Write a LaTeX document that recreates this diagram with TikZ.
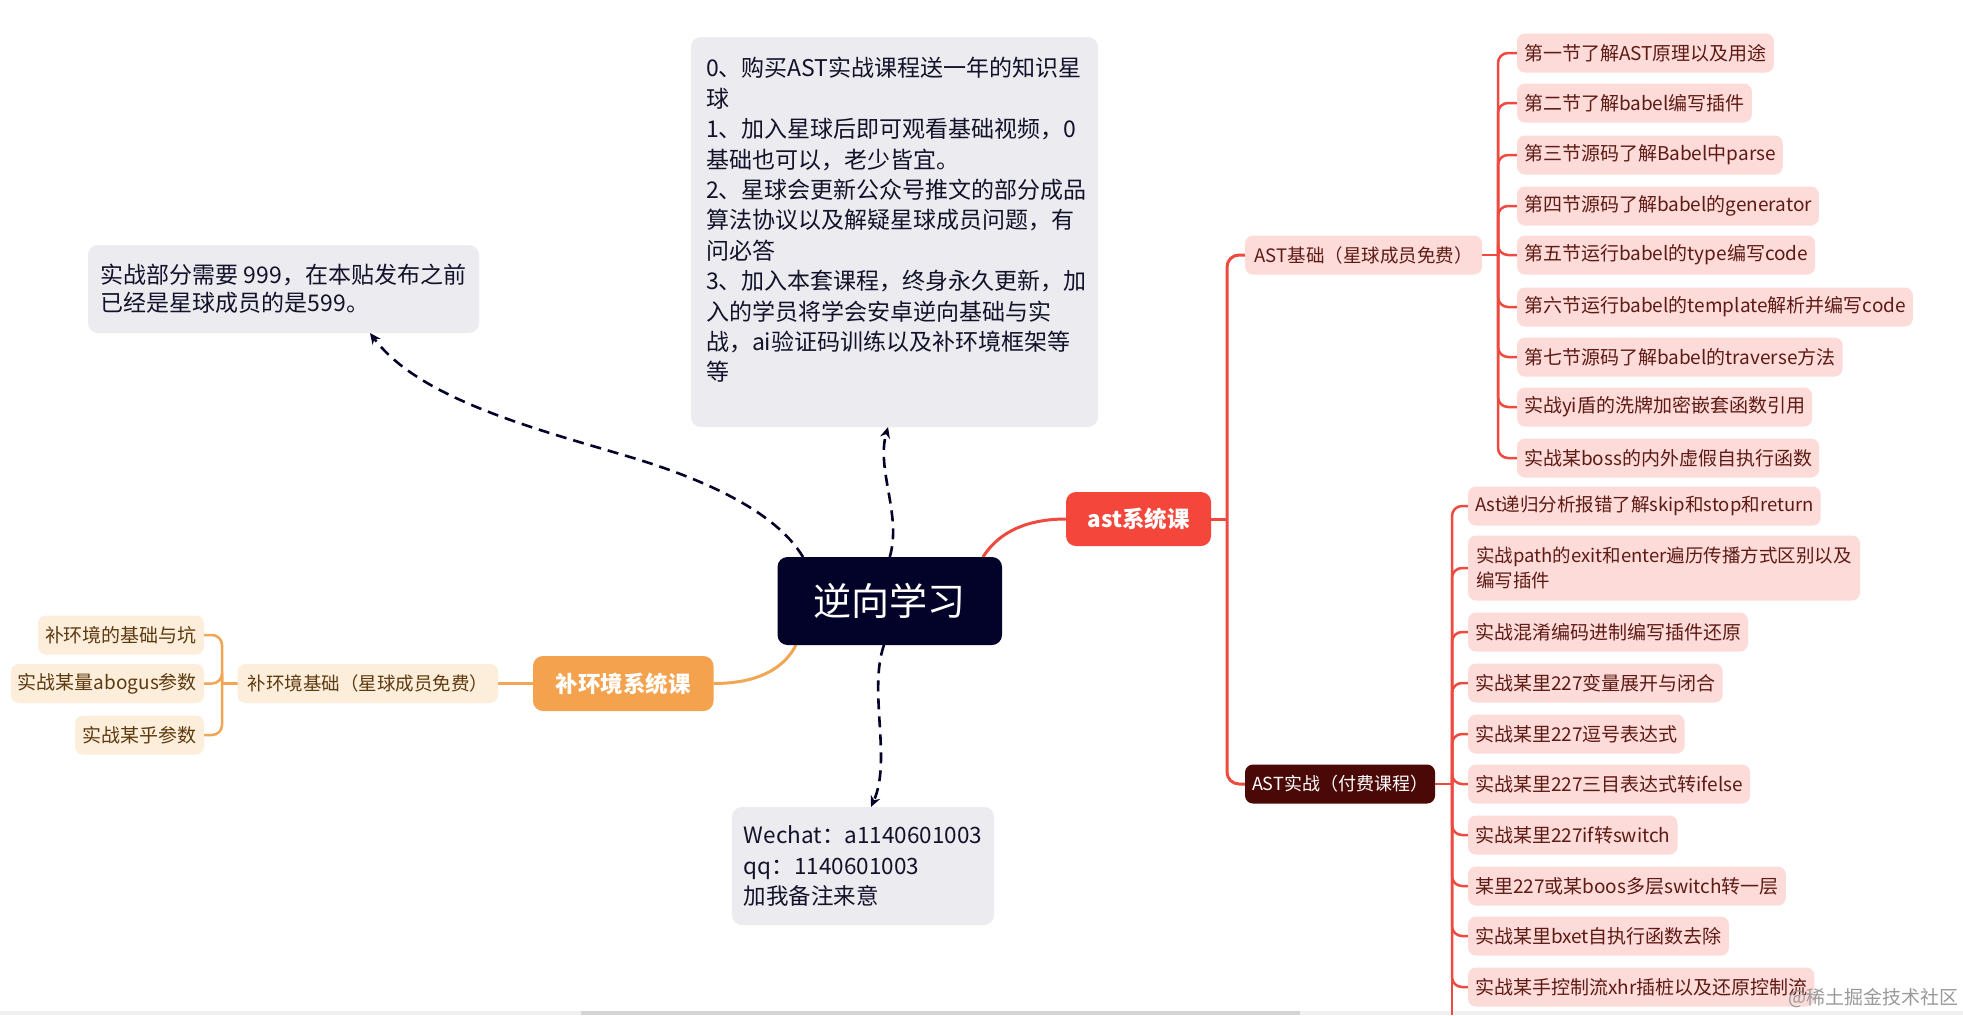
\documentclass[tikz,border=0pt]{standalone}
\usepackage{fontspec}
\setmainfont{Noto Sans CJK SC}
\usetikzlibrary{arrows.meta}
\definecolor{rootnavy}{HTML}{03032A}
\definecolor{notegray}{HTML}{ECEBEF}
\definecolor{notetext}{HTML}{12122A}
\definecolor{astred}{HTML}{F4463B}
\definecolor{redline}{HTML}{EF4A40}
\definecolor{pinkfill}{HTML}{FDDBD9}
\definecolor{pinktext}{HTML}{5E1A14}
\definecolor{maroon}{HTML}{4A0906}
\definecolor{orangenode}{HTML}{F4A24D}
\definecolor{orangeline}{HTML}{F2A552}
\definecolor{peach}{HTML}{FDEEDC}
\definecolor{browntext}{HTML}{5D3A0E}
\newcommand\fz[2]{\fontsize{#1}{#2}\selectfont}
\pgfdeclarelayer{background}
\pgfsetlayers{background,main}
\begin{document}
\begin{tikzpicture}[x=1pt,y=-1pt,
 every node/.style={inner sep=0pt, outer sep=0pt},
 notebox/.style={fill=notegray, rounded corners=10pt, text=notetext, align=left, font=\fz{23}{28.5}},
 root/.style={fill=rootnavy, rounded corners=10pt, text=white, font=\fz{38}{40}, minimum width=224.5pt, minimum height=88pt},
 mainbox/.style={rounded corners=10pt, text=white, font=\fz{22.5}{26}\bfseries},
 leaf/.style={fill=pinkfill, text=pinktext, rounded corners=8pt, anchor=west, minimum height=39pt, inner xsep=7pt, font=\fz{19}{24}},
 oleaf/.style={fill=peach, text=browntext, rounded corners=8pt, anchor=east, minimum height=39pt, inner xsep=7pt, font=\fz{19}{24}},
 redl/.style={draw=redline, line width=3pt},
 redc/.style={draw=redline, line width=2.5pt, rounded corners=10pt},
 orl/.style={draw=orangeline, line width=3pt},
 dlink/.style={draw=rootnavy, line width=2.6pt, dash pattern=on 11pt off 7pt, -{Stealth[length=11pt,width=10pt]}}
]
\begin{pgfonlayer}{background}
\fill[white] (0,0) rectangle (1963,1015);
\fill[black!6] (0,1011) rectangle (1963,1015);
\fill[black!17] (581,1011) rectangle (1300,1015);
\end{pgfonlayer}
\useasboundingbox (0,0) rectangle (1963,1015);

% notes
\node[notebox, minimum width=407pt, minimum height=390pt] (tn) at (894.5,232) {};
\node[anchor=west, align=left, text=notetext, font=\fz{23}{30.4}] (tnt) at (706,220) {0、购买AST实战课程送一年的知识星\\球\\1、加入星球后即可观看基础视频，0\\基础也可以，老少皆宜。\\2、星球会更新公众号推文的部分成品\\算法协议以及解疑星球成员问题，有\\问必答\\3、加入本套课程，终身永久更新，加\\入的学员将学会安卓逆向基础与实\\战，ai验证码训练以及补环境框架等\\等};
\node[notebox, minimum width=391pt, minimum height=88pt, inner xsep=12pt] (ln) at (283.5,289) {实战部分需要 999，在本贴发布之前\\已经是星球成员的是599。};
\node[notebox, minimum width=262pt, minimum height=118pt, inner xsep=12pt, font=\fz{22.5}{30.5}] (ct) at (863,866) {Wechat：a1140601003\\qq：1140601003\\加我备注来意};

% root and main branches
\node[root] (c) at (889.75,601) {逆向学习};
\node[mainbox, fill=astred, minimum width=145pt, minimum height=54pt] (a) at (1138.5,519) {ast系统课};
\node[mainbox, fill=orangenode, minimum width=180.5pt, minimum height=55pt] (bh) at (623.25,683.5) {补环境系统课};

% AST sub branches
\node[leaf, minimum width=237pt, font=\fz{18.5}{24}] (ab) at (1245,255) {AST基础（星球成员免费）};
\node[leaf, fill=maroon, text=white, minimum width=188pt, font=\fz{18}{24}] (ap) at (1245,784) {AST实战（付费课程）};

\node[leaf, minimum width=256pt] (b1) at (1517,53) {第一节了解AST原理以及用途};
\node[leaf, minimum width=232pt] (b2) at (1517,103) {第二节了解babel编写插件};
\node[leaf, minimum width=261pt] (b3) at (1517,155) {第三节源码了解Babel中parse};
\node[leaf, minimum width=298pt] (b4) at (1517,206) {第四节源码了解babel的generator};
\node[leaf, minimum width=295pt] (b5) at (1517,255) {第五节运行babel的type编写code};
\node[leaf, minimum width=390pt] (b6) at (1517,307) {第六节运行babel的template解析并编写code};
\node[leaf, minimum width=319pt] (b7) at (1517,357) {第七节源码了解babel的traverse方法};
\node[leaf, minimum width=295pt] (b8) at (1517,407) {实战yi盾的洗牌加密嵌套函数引用};
\node[leaf, minimum width=299pt] (b9) at (1517,458) {实战某boss的内外虚假自执行函数};

\node[leaf, minimum width=352pt, font=\fz{18.5}{24}] (p1) at (1468,506) {Ast递归分析报错了解skip和stop和return};
\node[leaf, minimum width=392pt, minimum height=65pt, align=left, font=\fz{18.5}{25}] (p2) at (1468,568) {实战path的exit和enter遍历传播方式区别以及\\编写插件};
\node[leaf, minimum width=280pt] (p3) at (1468,632) {实战混淆编码进制编写插件还原};
\node[leaf, minimum width=253pt] (p4) at (1468,683) {实战某里227变量展开与闭合};
\node[leaf, minimum width=216pt] (p5) at (1468,734) {实战某里227逗号表达式};
\node[leaf, minimum width=280pt] (p6) at (1468,784) {实战某里227三目表达式转ifelse};
\node[leaf, minimum width=206pt] (p7) at (1468,835) {实战某里227if转switch};
\node[leaf, minimum width=312pt] (p8) at (1468,886) {某里227或某boos多层switch转一层};
\node[leaf, minimum width=259pt] (p9) at (1468,936) {实战某里bxet自执行函数去除};
\node[leaf, minimum width=345pt] (p10) at (1468,987) {实战某手控制流xhr插桩以及还原控制流};

% orange side
\node[oleaf, minimum width=260.5pt, font=\fz{18.5}{24}] (bb) at (498,683.5) {补环境基础（星球成员免费）};
\node[oleaf, minimum width=166pt] (o1) at (204,635) {补环境的基础与坑};
\node[oleaf, minimum width=192pt] (o2) at (204,683.5) {实战某量abogus参数};
\node[oleaf, minimum width=129pt] (o3) at (204,735) {实战某乎参数};

\node[anchor=east, text=black!40, font=\fz{19}{22}] (wm) at (1958,998) {@稀土掘金技术社区};

\begin{pgfonlayer}{background}
% red branch
\draw[redl] ([xshift=93.25pt]c.north) .. controls (1000,530) and (1030,519) .. (a.west);
\coordinate (ja) at (1227,519);
\draw[redl] (a.east) -- (ja);
\draw[redl, rounded corners=12pt] (ja) |- (ab.west);
\draw[redl, rounded corners=12pt] (ja) |- (ap.west);
\coordinate (jb) at (1498,255);
\draw[redc] (ab.east) -- (jb);
\foreach \n in {1,...,9} \draw[redc] (jb) |- (b\n.west);
\coordinate (jp) at (1452,784);
\draw[redc] (ap.east) -- (jp);
\foreach \n in {1,...,10} \draw[redc] (jp) |- (p\n.west);
\coordinate (pend) at (1452,1015);
\draw[redc] (jp) -- (pend);
% orange branch
\draw[orl] ([xshift=-93.75pt]c.south) .. controls (780,676) and (745,683.5) .. (bh.east);
\draw[orl] (bh.west) -- (bb.east);
\coordinate (jo) at (222,683.5);
\draw[orl] (bb.west) -- (jo);
\foreach \n in {1,2,3} \draw[orl, line width=2.5pt, rounded corners=10pt] (jo) |- (o\n.east);
% dashed links
\draw[dlink] ([xshift=-86.75pt]c.north) .. controls (775,510) and (700,478) .. (630,457) .. controls (540,430) and (420,400) .. ([xshift=86.5pt]ln.south);
\draw[dlink] (c.north) .. controls (902,515) and (876,470) .. ([xshift=-6.5pt]tn.south);
\draw[dlink] ([xshift=-5.75pt]c.south) .. controls (868,690) and (892,760) .. ([xshift=8pt]ct.north);
\end{pgfonlayer}
\end{tikzpicture}
\end{document}
